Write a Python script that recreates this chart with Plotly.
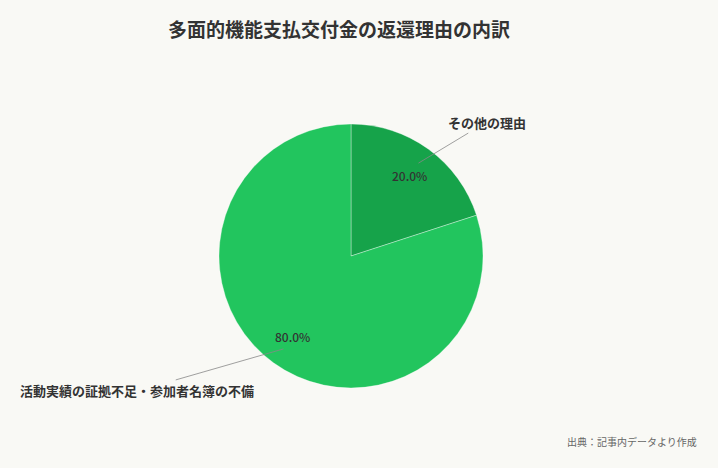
import math
import plotly.graph_objects as go

categories = ["その他の理由", "活動実績の証拠不足・参加者名簿の不備"]
values = [20.0, 80.0]
colors = ["#16a34a", "#22c55e"]

title_text = "多面的機能支払交付金の返還理由の内訳"
source_text = "出典：記事内データより作成"

W, H = 718, 468
M_T, M_B = 124, 80
plot_h = H - M_T - M_B
R = plot_h / 2
CX = 351
CY = M_T + R

FONT = "Noto Sans CJK JP, Noto Sans, sans-serif"
BG = "#f9f9f5"

fig = go.Figure(go.Pie(
    labels=categories,
    values=values,
    sort=False,
    direction="clockwise",
    rotation=0,
    marker=dict(colors=colors, line=dict(color="rgba(255,255,255,0.35)", width=1)),
    textinfo="none",
    hoverinfo="label+percent",
    showlegend=False,
    domain=dict(x=[0, 2 * CX / W], y=[0, 1]),
))

# label offsets (pixels) for outside category labels
label_offsets = [(68, -41), (-146, 42)]

def to_paper(px, py):
    return px / W, (H - M_B - py) / plot_h

total = sum(values)
cum = 0.0
annotations = []
for i, (cat, v) in enumerate(zip(categories, values)):
    mid = (cum + v / 2) / total * 2 * math.pi
    cum += v
    tx = CX + 0.75 * R * math.sin(mid)
    ty = CY - 0.75 * R * math.cos(mid)
    xp, yp = to_paper(tx, ty)
    annotations.append(dict(
        x=xp, y=yp, xref="paper", yref="paper", showarrow=False,
        xanchor="center", yanchor="middle",
        text=f"{v / total * 100:.1f}%",
        font=dict(family=FONT, size=12, color="#333333", weight=500),
    ))
    lx = CX + 0.87 * R * math.sin(mid)
    ly = CY - 0.87 * R * math.cos(mid)
    xp, yp = to_paper(lx, ly)
    ax, ay = label_offsets[i]
    annotations.append(dict(
        x=xp, y=yp, xref="paper", yref="paper", showarrow=True,
        arrowhead=0, arrowwidth=0.8, arrowcolor="#888888", ax=ax, ay=ay,
        text=f"<b>{cat}</b>",
        font=dict(family=FONT, size=13, color="#333333"),
    ))

annotations.append(dict(
    x=1, y=(H - M_B - 441) / plot_h,
    xref="paper", yref="paper",
    xanchor="right", yanchor="middle", showarrow=False, xshift=-19,
    text=source_text, font=dict(family=FONT, size=10, color="#666666"),
))

fig.update_layout(
    width=W, height=H,
    paper_bgcolor=BG, plot_bgcolor=BG,
    margin=dict(l=0, r=0, t=M_T, b=M_B),
    title=dict(text=f"<b>{title_text}</b>", x=339 / W, xanchor="center",
               y=1 - 30 / H, yanchor="middle",
               font=dict(family=FONT, size=19, color="#333333")),
    annotations=annotations,
)

fig.write_html("out.html", config={"displayModeBar": False},
               post_script="document.body.style.margin='0';document.body.style.background='%s';" % BG)
